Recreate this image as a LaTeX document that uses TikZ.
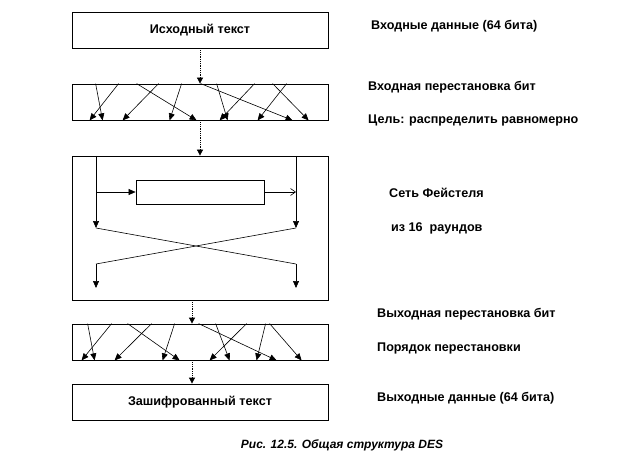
\documentclass[tikz,border=0pt]{standalone}
\usepackage{fontspec}
\setmainfont{Liberation Sans}
\usetikzlibrary{arrows.meta, positioning, calc}

\begin{document}
\begin{tikzpicture}[
    x=1pt, y=-1pt,
    box/.style={draw, line width=0.8pt, minimum width=256pt, minimum height=36pt, inner sep=0, font=\bfseries\fontsize{12.6}{14}\selectfont},
    fbox/.style={draw, line width=0.8pt, minimum width=128pt, minimum height=24pt, inner sep=0},
    lbl/.style={anchor=west, inner sep=0, font=\bfseries\fontsize{12.6}{14}\selectfont},
    perm/.style={-{Triangle[length=7pt,width=6pt]}, line width=0.6pt},
    dotarr/.style={densely dotted, line width=0.8pt, -{Triangle[length=6pt,width=6pt]}},
    >=Stealth
]
\useasboundingbox (0,0) rectangle (640,468);
% main column
\node[box] (src) at (200,30)  {Исходный текст};
\node[box] (ip)  at (200,102) {};
\node[box, minimum height=144pt] (fn) at (200,228) {};
\node[box] (fp)  at (200,342) {};
\node[box] (enc) at (200,402) {Зашифрованный текст};
\draw[dotarr] (src.south) -- (ip.north);
\draw[dotarr] (ip.south) -- (fn.north);
\draw[dotarr] ([xshift=-8pt]fn.south) -- ([xshift=-8pt]fp.north);
\draw[dotarr] ([xshift=-8pt]fp.south) -- ([xshift=-8pt]enc.north);
% initial permutation
\foreach \a/\b in {24/31, 47/18, 65/125, 87/51, 110/98, 129/221, 145/156, 183/148, 201/237, 215/186}
  \draw[perm] ([xshift=\a pt]ip.north west) -- ([xshift=\b pt]ip.south west);
% final permutation
\foreach \a/\b in {16/23, 40/10, 56/108, 80/43, 103/91, 127/205, 144/158, 175/138, 194/185, 198/230}
  \draw[perm] ([xshift=\a pt]fp.north west) -- ([xshift=\b pt]fp.south west);
% feistel round
\node[fbox] (f) at (200,192) {};
\coordinate (l1) at (96,156);  \coordinate (r1) at (296,156);
\coordinate (l2) at (96,228);  \coordinate (r2) at (296,228);
\coordinate (l3) at (96,264);  \coordinate (r3) at (296,264);
\coordinate (l4) at (96,288);  \coordinate (r4) at (296,288);
\draw[perm] (l1) -- (l2);
\draw[perm] (r1) -- (r2);
\draw[perm] (l1 |- f.west) -- (f.west);
\draw[line width=0.6pt, -{Straight Barb[length=5pt,width=7pt]}] (f.east) -- (r1 |- f.east);
\draw[line width=0.6pt] (l2) -- (r3);
\draw[line width=0.6pt] (r2) -- (l3);
\draw[perm] (l3) -- (l4);
\draw[perm] (r3) -- (r4);
% labels
\node[lbl] (t1) at (371,26)  {Входные данные (64 бита)};
\node[lbl] (t2) at (368,87)  {Входная перестановка бит};
\node[lbl] (t3) at (368,120) {Цель: распределить равномерно};
\node[lbl] (t4) at (389,193) {Сеть Фейстеля};
\node[lbl] (t5) at (391,228) {из 16\ \ раундов};
\node[lbl] (t6) at (377,314) {Выходная перестановка бит};
\node[lbl] (t7) at (377,348) {Порядок перестановки};
\node[lbl] (t8) at (377,398) {Выходные данные (64 бита)};
\node[font=\bfseries\itshape\fontsize{12}{14}\selectfont] (cap) at (342,445) {Рис. 12.5. Общая структура DES};
\end{tikzpicture}
\end{document}
